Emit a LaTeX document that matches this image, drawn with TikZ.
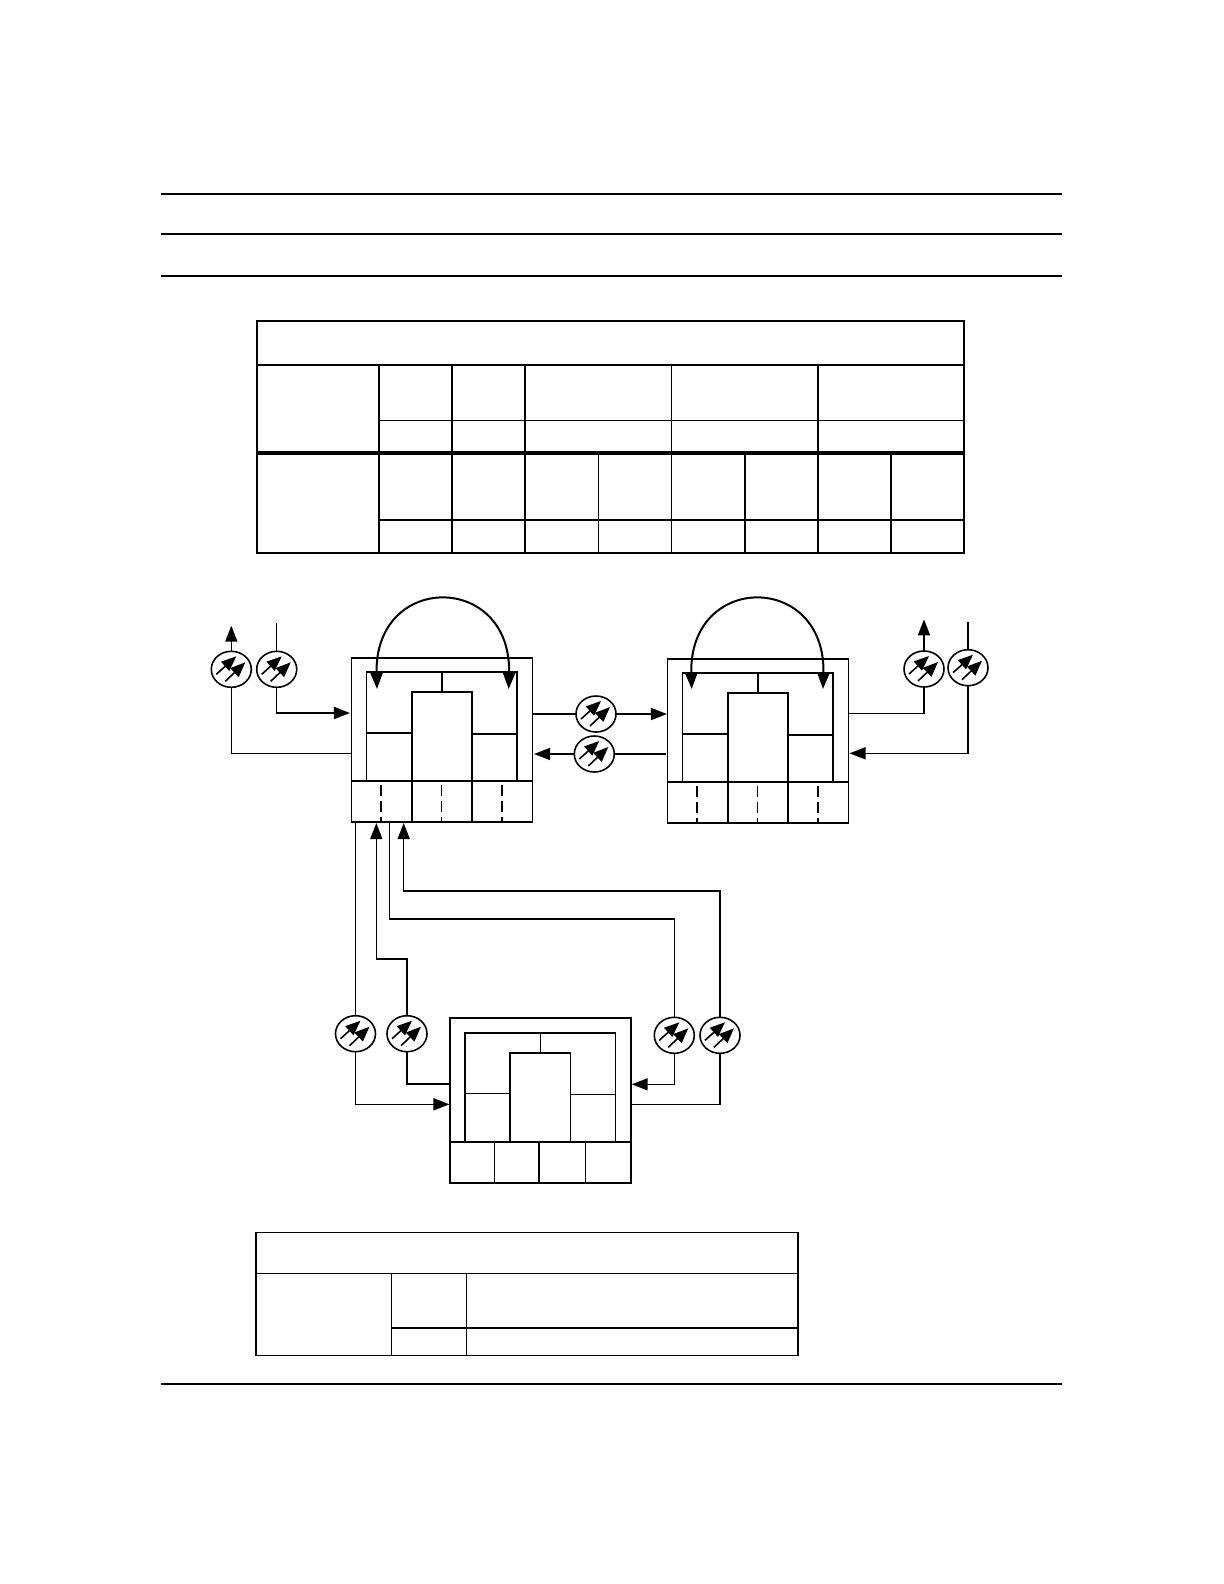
\documentclass[tikz,border=0pt]{standalone}
\usepackage{amssymb,amsmath}
\usetikzlibrary{arrows.meta}
\usetikzlibrary{shapes.geometric}

\tikzset{
  amp/.style={ellipse, draw, minimum width=.4cm, minimum height=.36cm, inner sep=0pt, outer sep=0pt},
  cell/.style={rectangle, draw, anchor=north west, inner sep=0pt, outer sep=0pt},
  ampmark/.style={-{Triangle[length=.15cm,width=.12cm]}},
  hairline/.style={line width=.3pt},
  rule/.style={line width=.57pt},
  heavy/.style={line width=1pt}
}

\begin{document}
\begin{tikzpicture}[x=.01cm, y=-.01cm, line width=.45pt, >={Triangle[length=.16cm,width=.12cm]}]
\useasboundingbox (0,0) rectangle (1224,1584);

% page rules
\foreach \y in {194,233.7,275.7,1384} \draw[rule] (161,\y) -- (1062.3,\y);

% upper table
\draw[rule] (257,321) rectangle (964,552.7);
\draw[rule] (257,365) -- (964,365);
\draw[heavy] (257,453) -- (964,453);
\draw[hairline] (379,420.3) -- (964,420.3);
\draw[rule] (379,519.7) -- (964,519.7);
\foreach \x in {379,452,525,818.3} \draw[rule] (\x,365) -- (\x,552.7);
\draw[hairline] (671.3,365) -- (671.3,552.7);
\draw[hairline] (598.3,453) -- (598.3,552.7);
\draw[rule] (745,453) -- (745,552.7);
\draw[rule] (891,453) -- (891,552.7);

% lower table
\draw[hairline] (256,1232.7) rectangle (798.3,1355.3);
\draw[rule] (256,1232.7) -- (256,1355.3);
\draw[rule] (798.3,1232.7) -- (798.3,1355.3);
\draw[hairline] (256,1273.3) -- (798.3,1273.3);
\draw[rule] (391.3,1328) -- (798.3,1328);
\draw[hairline] (391.3,1273.3) -- (391.3,1355.3);
\draw[hairline] (466.3,1273.3) -- (466.3,1355.3);

% switch boxes
\foreach \n/\px/\py in {a/351.7/657.7, b/667.7/658.7, c/450/1018.3} {
\begin{scope}[shift={(\px,\py)}]
\node [cell, minimum width=1.805cm, minimum height=1.644cm] (\n1) at (0,0) {};
\node [cell, minimum width=1.503cm, minimum height=1.09cm] (\n2) at (15,14.5) {};
\node [cell, minimum width=.603cm, minimum height=.89cm] (\n3) at (60.2,34.5) {};
\draw (\n3.north) -- (\n3.north |- \n2.north);
\draw (0,123.5) -- (180.5,123.5);
\draw (15,75) -- (60.2,75);
\draw (120.5,76) -- (165.3,76);
\end{scope}
}
\draw[rule] (c1.north west) rectangle (c1.south east);

% bottom cells
\foreach \n/\px/\py in {a/351.7/657.7, b/667.7/658.7} {
\begin{scope}[shift={(\px,\py)}]
\foreach \x in {60.2,120.5} \draw (\x,123.5) -- (\x,164.4);
\foreach \x in {29.5,90,150.5} \draw[dash pattern=on .11cm off .05cm] (\x,127.5) -- (\x,164.4);
\end{scope}
}
\foreach \x in {494.3,539,585.3} \draw (\x,1141.8) -- (\x,1182.7);

% amplifiers
\node [amp] (l1) at (231.3,669.3) {};
\node [amp] (l2) at (276.7,669.3) {};
\node [amp] (m1) at (596,714) {};
\node [amp] (m2) at (594.3,754) {};
\node [amp] (r1) at (924,669) {};
\node [amp] (r2) at (968,667.7) {};
\node [amp] (d1) at (355.5,1033.7) {};
\node [amp] (d2) at (407,1033.7) {};
\node [amp] (d3) at (674.3,1035.3) {};
\node [amp] (d4) at (720,1035.3) {};
\foreach \n in {l1,l2,m1,m2,r1,r2,d1,d2,d3,d4} {
\draw[ampmark] ([shift={(-15,5)}]\n.center) -- ([shift={(5,-13)}]\n.center);
\draw[ampmark] ([shift={(-6,12)}]\n.center) -- ([shift={(14,-7)}]\n.center);
}

% connector ends
\coordinate (l1t) at (231.3,625.7);
\coordinate (l2t) at (276.7,623.3);
\coordinate (r1t) at (924,619.3);
\coordinate (r2t) at (968,622);
\coordinate (a1w1) at (350,713);
\coordinate (a1w2) at (351.7,753.5);
\coordinate (a1e1) at (532.2,714);
\coordinate (a1e2) at (534,754);
\coordinate (b1w1) at (667,714);
\coordinate (b1w2) at (666,754);
\coordinate (b1e1) at (848.2,713.3);
\coordinate (b1e2) at (849.5,753.3);
\coordinate (a1s1) at (355.5,821.7);
\coordinate (a1s2) at (376.3,823);
\coordinate (a1s3) at (389.7,821.7);
\coordinate (a1s4) at (403.7,823);
\coordinate (j1) at (376.3,958.7);
\coordinate (j2) at (389.7,919);
\coordinate (j3) at (403.7,891);
\coordinate (c1w1) at (449.5,1104.3);
\coordinate (c1w2) at (450,1084);
\coordinate (c1e1) at (631.7,1084.3);
\coordinate (c1e2) at (631,1104.3);

\draw[->] (l1) -- (l1t);
\draw (l2t) -- (l2);
\draw[->] (l2.south) |- (a1w1);
\draw (l1.south) |- (a1w2);
\draw (a1e1) -- (m1);
\draw[->] (m1) -- (b1w1);
\draw (b1w2) -- (m2);
\draw[->] (m2) -- (a1e2);
\draw (b1e1) -| (r1.south);
\draw[->] (r1) -- (r1t);
\draw (r2t) -- (r2);
\draw[->] (r2.south) |- (b1e2);
\draw (a1s1) -- (d1);
\draw[->] (d1.south) |- (c1w1);
\draw[->] (d2.north) |- (j1) -- (a1s2);
\draw (d2.south) |- (c1w2);
\draw (d3.north) |- (j2) -- (a1s3);
\draw[->] (d3.south) |- (c1e1);
\draw[->] (d4.north) |- (j3) -- (a1s4);
\draw (d4.south) |- (c1e2);

% loops over the boxes
\coordinate (a4l) at (377,689);
\coordinate (a4r) at (508.7,689);
\coordinate (b4l) at (691.7,689);
\coordinate (b4r) at (823,689);
\draw[<->, rule] (a4l) .. controls (374,572) and (511.7,572) .. (a4r);
\draw[<->, rule] (b4l) .. controls (688.7,572) and (826,572) .. (b4r);
\end{tikzpicture}
\end{document}
